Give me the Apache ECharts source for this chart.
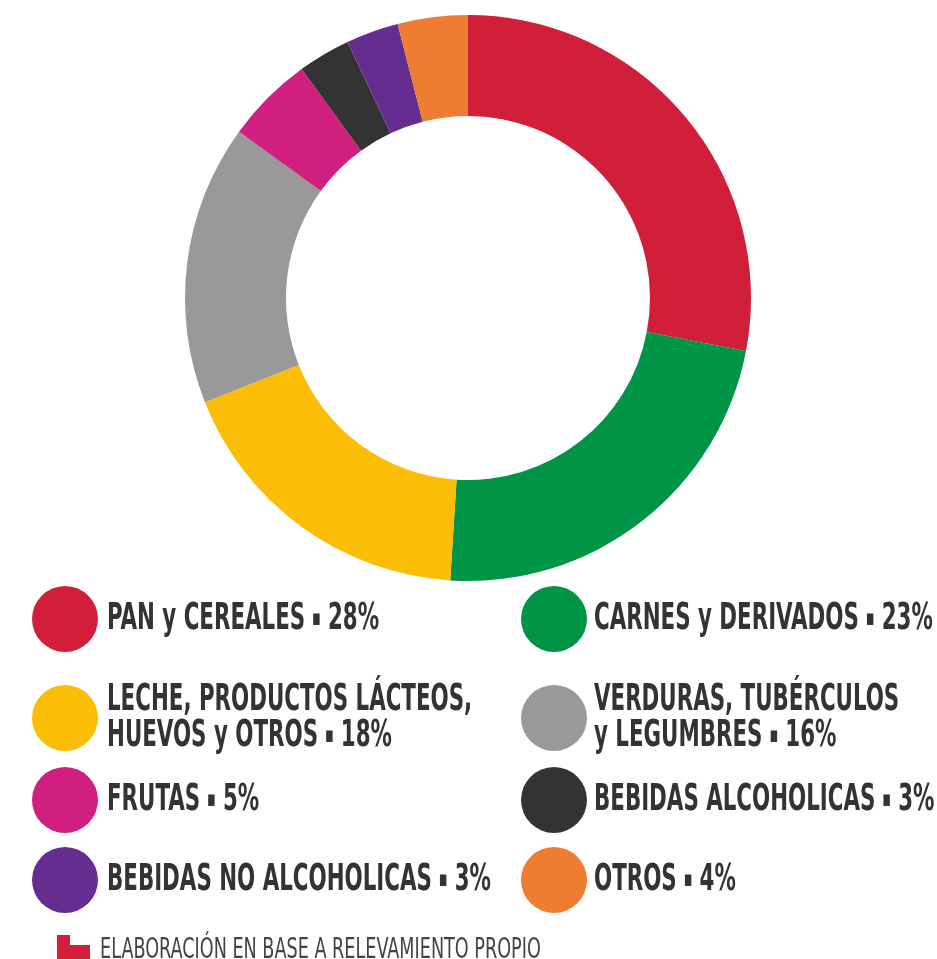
<!DOCTYPE html>
<html>
<head>
<meta charset="utf-8">
<script src="https://cdn.jsdelivr.net/npm/echarts@6/dist/echarts.min.js"></script>
<style>
html,body{margin:0;padding:0;background:#fff;}
#chart{width:937px;height:959px;}
</style>
</head>
<body>
<div id="chart"></div>
<script>
const categories = ['PAN y CEREALES', 'CARNES y DERIVADOS', 'LECHE, PRODUCTOS LÁCTEOS, HUEVOS y OTROS', 'VERDURAS, TUBÉRCULOS y LEGUMBRES', 'FRUTAS', 'BEBIDAS ALCOHOLICAS', 'BEBIDAS NO ALCOHOLICAS', 'OTROS'];
const legendLabels = ['PAN y CEREALES', 'CARNES y DERIVADOS', 'LECHE, PRODUCTOS LÁCTEOS,\nHUEVOS y OTROS', 'VERDURAS, TUBÉRCULOS\ny LEGUMBRES', 'FRUTAS', 'BEBIDAS ALCOHOLICAS', 'BEBIDAS NO ALCOHOLICAS', 'OTROS'];
const values = [28, 23, 18, 16, 5, 3, 3, 4];
const colors = ['#d11f3a', '#009447', '#fbbd06', '#999999', '#d01f7f', '#333333', '#662d91', '#ee7d31'];
const footnote = 'ELABORACIÓN EN BASE A RELEVAMIENTO PROPIO';

const chart = echarts.init(document.getElementById('chart'));

const FONT = '"DejaVu Sans Condensed", "DejaVu Sans", sans-serif';
// legend layout: two columns, four rows
const colCircleX = [65, 554];
const colTextX = [107, 594];
const rowCenter = [619, 718, 800, 880];

const legendGraphics = [];
categories.forEach((name, i) => {
  const col = i % 2, row = Math.floor(i / 2);
  legendGraphics.push({
    type: 'circle',
    shape: { cx: colCircleX[col], cy: rowCenter[row], r: 33 },
    style: { fill: colors[i] }
  });
  legendGraphics.push({
    type: 'text',
    x: colTextX[col],
    y: rowCenter[row],
    scaleX: 0.625,
    style: {
      text: legendLabels[i] + ' {sep|■} ' + values[i] + '%',
      fontFamily: FONT,
      fontWeight: 'bold',
      fontSize: 38,
      lineHeight: 36,
      fill: '#333333',
      align: 'left',
      verticalAlign: 'middle',
      rich: {
        sep: { fontSize: 15, fontFamily: FONT, fill: '#333333', verticalAlign: 'middle', lineHeight: 36 }
      }
    }
  });
});

chart.setOption({
  animation: false,
  color: colors,
  series: [{
    type: 'pie',
    center: [468, 298],
    radius: [182, 283],
    startAngle: 90,
    clockwise: true,
    label: { show: false },
    labelLine: { show: false },
    emphasis: { disabled: true },
    itemStyle: { borderWidth: 0 },
    data: categories.map((n, i) => ({ name: n, value: values[i] }))
  }],
  graphic: legendGraphics.concat([
    {
      type: 'polygon',
      shape: { points: [[57, 935], [70, 935], [70, 945], [90, 945], [90, 959], [57, 959]] },
      style: { fill: '#d11f3a' }
    },
    {
      type: 'text',
      x: 100,
      y: 937,
      scaleX: 0.7,
      style: {
        text: footnote,
        fontFamily: FONT,
        fontSize: 28,
        fill: '#444444',
        align: 'left',
        verticalAlign: 'top'
      }
    }
  ])
});
</script>
</body>
</html>
